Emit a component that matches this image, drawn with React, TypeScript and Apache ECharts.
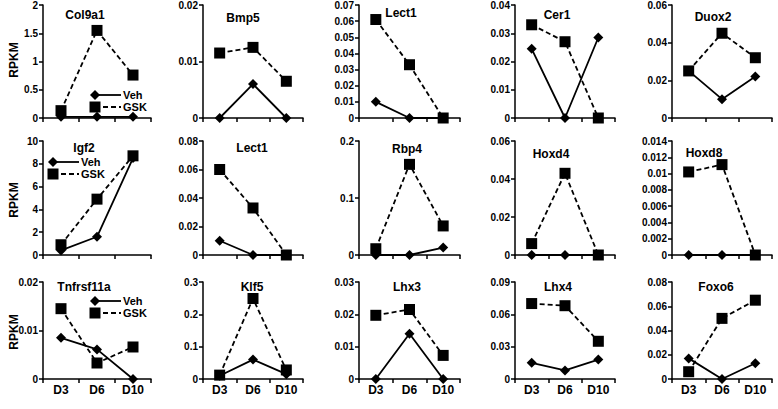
import React, { useEffect, useRef } from "react";
import * as echarts from "echarts";

const days = ["D3", "D6", "D10"];
const genes = ["Col9a1", "Bmp5", "Lect1", "Cer1", "Duox2", "Igf2", "Lect1", "Rbp4", "Hoxd4", "Hoxd8", "Tnfrsf11a", "Klf5", "Lhx3", "Lhx4", "Foxo6"];
const vehValues = [
  [0.02, 0.02, 0.02],
  [0, 0.006, 0],
  [0.01, 0, 0],
  [0.0245, 0, 0.0285],
  [0.025, 0.01, 0.022],
  [0.4, 1.6, 8.5],
  [0.01, 0, 0],
  [0, 0, 0.013],
  [0, 0, 0],
  [0, 0, 0],
  [0.0085, 0.0061, 0],
  [0.01, 0.06, 0.015],
  [0, 0.014, 0],
  [0.015, 0.008, 0.018],
  [0.017, 0, 0.013],
];
const gskValues = [
  [0.13, 1.55, 0.76],
  [0.0115, 0.0125, 0.0065],
  [0.061, 0.033, 0],
  [0.033, 0.027, 0],
  [0.025, 0.045, 0.032],
  [0.9, 4.9, 8.7],
  [0.06, 0.033, 0],
  [0.011, 0.159, 0.051],
  [0.006, 0.043, 0],
  [0.0102, 0.0111, 0],
  [0.0145, 0.0033, 0.0066],
  [0.012, 0.249, 0.028],
  [0.0197, 0.0215, 0.0073],
  [0.07, 0.068, 0.035],
  [0.006, 0.05, 0.065],
];
const yMax = [2, 0.02, 0.07, 0.04, 0.06, 10, 0.08, 0.2, 0.06, 0.014, 0.02, 0.3, 0.03, 0.09, 0.08];
const yStep = [0.5, 0.01, 0.01, 0.01, 0.02, 2, 0.02, 0.1, 0.02, 0.002, 0.01, 0.1, 0.01, 0.03, 0.02];
const seriesNames = ["Veh", "GSK"];
const yAxisTitle = "RPKM";

const FONT = '"Liberation Sans", Arial, sans-serif';

const gridLeft = [43, 203, 359, 515, 672];
const gridWidth = [108, 100, 101, 100, 100];
const gridTop = [5, 141, 282];
const gridHeight = [113, 114, 97];
const titlePos: [number, number][] = [
  [85, 15], [243, 18], [401, 13], [557, 15], [713, 17],
  [84, 148], [252, 148], [407, 149], [551, 154], [704, 153],
  [84, 287], [252, 287], [407, 287], [558, 287], [716, 287],
];
// [diamond centre x, Veh row y, GSK row y]
const legendPos: [number, number, number][] = [[95, 95, 107], [53, 162, 174], [95, 301, 313]];

export default function App() {
  const ref = useRef<HTMLDivElement>(null);
  useEffect(() => {
    document.body.style.margin = "0";
    const chart = echarts.init(ref.current!, undefined, { renderer: "svg" });
    const grid: any[] = [];
    const xAxis: any[] = [];
    const yAxis: any[] = [];
    const series: any[] = [];
    const graphic: any[] = [];
    genes.forEach((g, i) => {
      const row = Math.floor(i / 5);
      const col = i % 5;
      grid.push({ left: gridLeft[col], top: gridTop[row], width: gridWidth[col], height: gridHeight[row] });
      xAxis.push({
        type: "category",
        gridIndex: i,
        data: days,
        boundaryGap: true,
        axisLine: { lineStyle: { color: "#000", width: 1.5 } },
        axisTick: { show: true, length: 4, lineStyle: { color: "#000", width: 1.5 } },
        axisLabel: { show: row === 2, color: "#000", fontWeight: "bold", fontSize: 12, fontFamily: FONT, margin: 5 },
      });
      yAxis.push({
        type: "value",
        gridIndex: i,
        min: 0,
        max: yMax[i],
        interval: yStep[i],
        splitLine: { show: false },
        axisLine: { show: true, lineStyle: { color: "#000", width: 1.5 } },
        axisTick: { show: true, length: 4, lineStyle: { color: "#000", width: 1.5 } },
        axisLabel: { color: "#000", fontWeight: "bold", fontSize: 10, fontFamily: FONT, margin: 5 },
      });
      series.push({
        name: seriesNames[0],
        type: "line",
        xAxisIndex: i,
        yAxisIndex: i,
        data: vehValues[i],
        symbol: "diamond",
        symbolSize: 10,
        itemStyle: { color: "#000" },
        lineStyle: { color: "#000", width: 1.8, type: "solid" },
      });
      series.push({
        name: seriesNames[1],
        type: "line",
        xAxisIndex: i,
        yAxisIndex: i,
        data: gskValues[i],
        symbol: "rect",
        symbolSize: 11,
        itemStyle: { color: "#000" },
        lineStyle: { color: "#000", width: 1.8, type: [5, 3] },
      });
      graphic.push({
        type: "text",
        x: titlePos[i][0],
        y: titlePos[i][1],
        style: { text: g, font: `bold 12px ${FONT}`, fill: "#000", textAlign: "center", textVerticalAlign: "middle" },
      });
    });
    [60, 200, 332].forEach((cy) => {
      graphic.push({
        type: "text",
        x: 14,
        y: cy,
        rotation: Math.PI / 2,
        style: { text: yAxisTitle, font: `bold 12px ${FONT}`, fill: "#000", textAlign: "center", textVerticalAlign: "middle" },
      });
    });
    legendPos.forEach(([cx, yv, yg]) => {
      graphic.push(
        { type: "line", shape: { x1: cx, y1: yv, x2: cx + 26, y2: yv }, style: { stroke: "#000", lineWidth: 1.8 } },
        { type: "polygon", shape: { points: [[cx, yv - 5], [cx + 5, yv], [cx, yv + 5], [cx - 5, yv]] }, style: { fill: "#000" } },
        { type: "text", x: cx + 28, y: yv, style: { text: seriesNames[0], font: `bold 11px ${FONT}`, fill: "#000", textAlign: "left", textVerticalAlign: "middle" } },
        { type: "line", shape: { x1: cx, y1: yg, x2: cx + 26, y2: yg }, style: { stroke: "#000", lineWidth: 1.8, lineDash: [5, 3] } },
        { type: "rect", shape: { x: cx - 5.5, y: yg - 5.5, width: 11, height: 11 }, style: { fill: "#000" } },
        { type: "text", x: cx + 28, y: yg, style: { text: seriesNames[1], font: `bold 11px ${FONT}`, fill: "#000", textAlign: "left", textVerticalAlign: "middle" } }
      );
    });
    chart.setOption({ animation: false, grid, xAxis, yAxis, series, graphic });
    return () => chart.dispose();
  }, []);
  return <div ref={ref} style={{ width: 778, height: 409 }} />;
}
